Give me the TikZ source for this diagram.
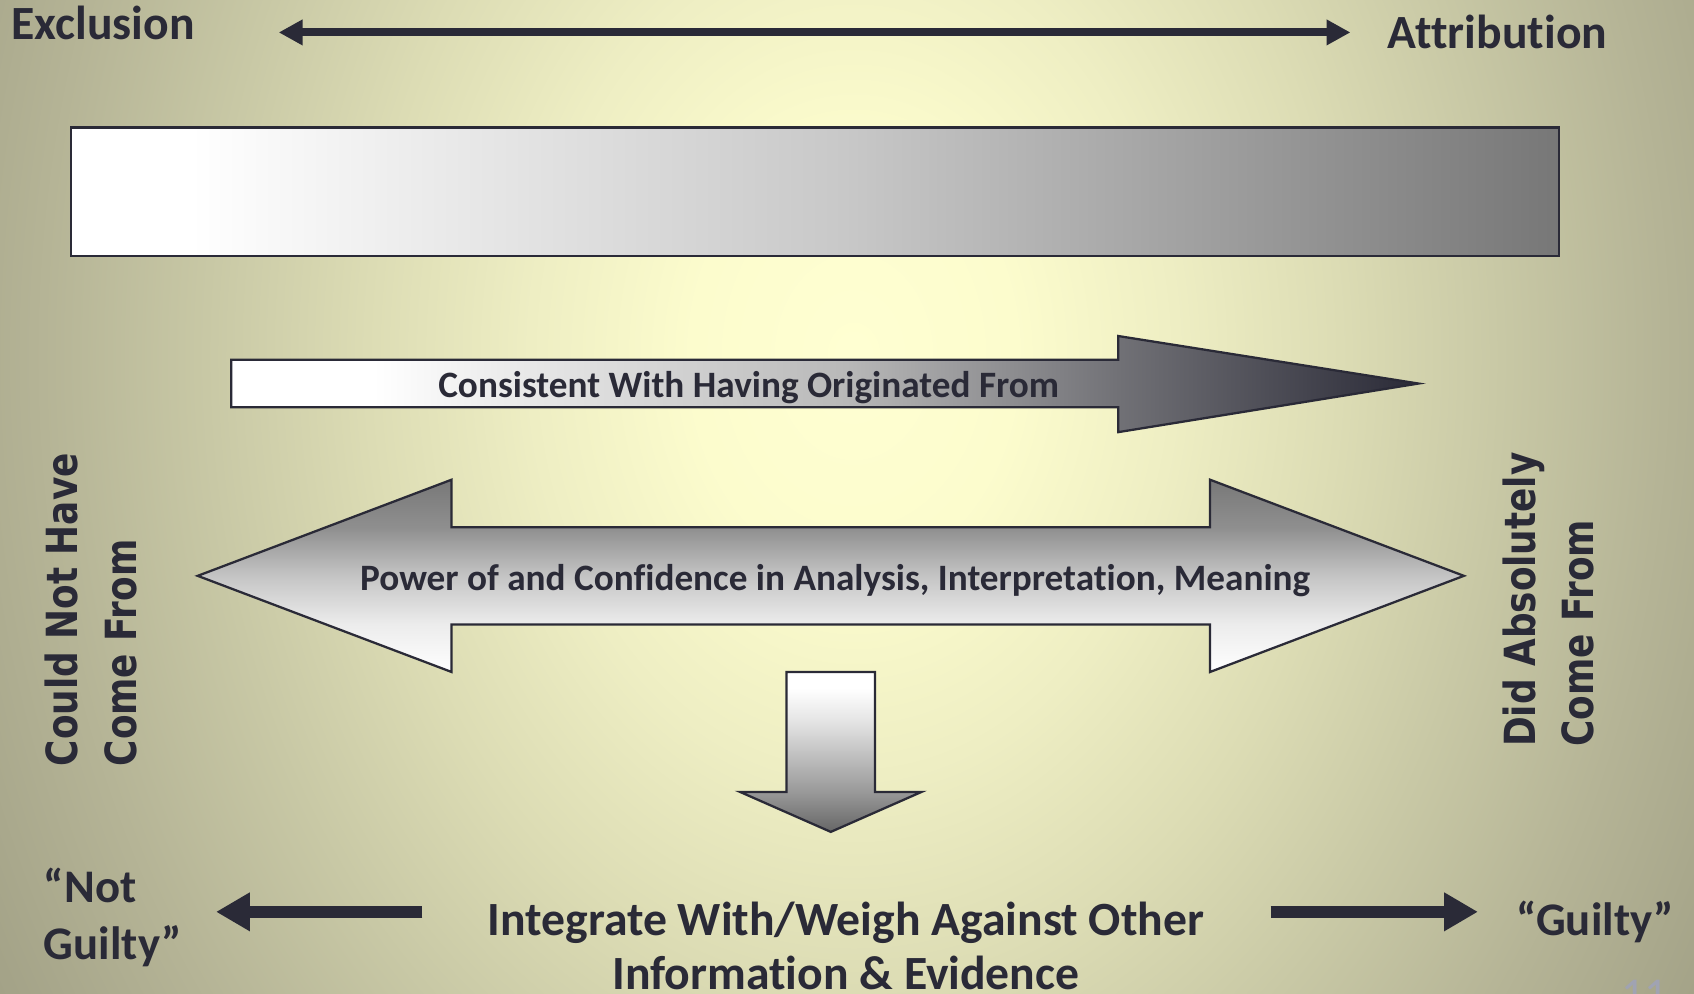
\documentclass[tikz,border=0pt]{standalone}
\usepackage{fontspec}
\setmainfont{Carlito}[Ligatures={TeX,NoCommon}]
\newfontfamily\vfont[FakeStretch=0.835]{DejaVu Sans}
\usetikzlibrary{arrows.meta}
\definecolor{ink}{RGB}{42,42,55}
\definecolor{pagenum}{RGB}{160,163,178}
\pgfdeclareradialshading{bgglow}{\pgfpoint{0bp}{0bp}}{%
 rgb(0bp)=(1,1,0.824);
 rgb(3.75bp)=(0.988,0.988,0.804);
 rgb(7.5bp)=(0.933,0.933,0.765);
 rgb(11.25bp)=(0.863,0.863,0.706);
 rgb(15bp)=(0.784,0.784,0.647);
 rgb(18.75bp)=(0.71,0.706,0.588);
 rgb(22.5bp)=(0.643,0.639,0.533);
 rgb(27.5bp)=(0.588,0.584,0.486);
 rgb(50bp)=(0.588,0.584,0.486)}
\pgfdeclarehorizontalshading{scalegrad}{100bp}{%
 rgb(0bp)=(1,1,1); rgb(29bp)=(1,1,1); rgb(51bp)=(0.784,0.784,0.784);
 rgb(75bp)=(0.467,0.467,0.467); rgb(100bp)=(0.467,0.467,0.467)}
\pgfdeclarehorizontalshading{consgrad}{100bp}{%
 rgb(0bp)=(1,1,1); rgb(31bp)=(1,1,1); rgb(51bp)=(0.72,0.72,0.72);
 rgb(62.5bp)=(0.44,0.44,0.46); rgb(75bp)=(0.165,0.165,0.216); rgb(100bp)=(0.165,0.165,0.216)}
\pgfdeclareverticalshading{powgrad}{100bp}{%
 rgb(0bp)=(1,1,1); rgb(25bp)=(1,1,1); rgb(37.5bp)=(0.925,0.925,0.925);
 rgb(50bp)=(0.77,0.77,0.77); rgb(62.5bp)=(0.56,0.56,0.56);
 rgb(75bp)=(0.47,0.47,0.47); rgb(100bp)=(0.47,0.47,0.47)}
\pgfdeclareverticalshading{downgrad}{100bp}{%
 rgb(0bp)=(0.4,0.4,0.4); rgb(25bp)=(0.4,0.4,0.4); rgb(37.5bp)=(0.6,0.6,0.6);
 rgb(60bp)=(0.9,0.9,0.9); rgb(70bp)=(1,1,1); rgb(100bp)=(1,1,1)}
\begin{document}
\begin{tikzpicture}[x=0.01cm, y=-0.01cm, line join=miter,
  bigtxt/.style={text=ink, inner sep=0pt, font=\fontsize{12.3}{15}\selectfont\bfseries},
  toptxt/.style={text=ink, inner sep=0pt, font=\fontsize{12.55}{15}\selectfont\bfseries},
  midtxt/.style={text=ink, inner sep=0pt, font=\fontsize{9.8}{12}\selectfont\bfseries},
  sidetxt/.style={text=ink, inner sep=0pt, rotate=90, align=left, font=\vfont\fontsize{11.3}{15.4}\selectfont\bfseries},
  outline/.style={draw=ink, line width=0.6pt},
  spanarrow/.style={draw=ink, line width=2.1pt, {Triangle[length=6.3pt,width=6.4pt]}-{Triangle[length=6.3pt,width=6.4pt]}},
  verdict/.style={draw=ink, line width=3.1pt, -{Triangle[length=8.9pt,width=9.6pt]}}]
\useasboundingbox (0,0) rectangle (1568,920);
\begin{scope}
  \clip (0,0) rectangle (1568,920);
  \shade[shading=bgglow] (-210,-970) rectangle (1790,1630);
\end{scope}
% top scale
\node[toptxt, anchor=base west] (excl) at (10,37) {Exclusion};
\node[toptxt, anchor=base west] (attr) at (1284,45) {Attribution};
\coordinate (barL) at (258,30);
\coordinate (barR) at (1250,30);
\draw[spanarrow] (barL) -- (barR);
\shadedraw[outline, shading=scalegrad] (66,118) rectangle (1443,237);
% consistent arrow
\shadedraw[outline, shading=consgrad] (214,333) -- (1035,333) -- (1035,311) -- (1313,355) -- (1035,400) -- (1035,377) -- (214,377) -- cycle;
\node[midtxt, anchor=base] (cons) at (693,368) {Consistent With Having Originated From};
% double arrow
\shadedraw[outline, shading=powgrad] (183,533) -- (418,444) -- (418,488) -- (1120,488) -- (1120,444) -- (1355,533) -- (1120,622) -- (1120,578) -- (418,578) -- (418,622) -- cycle;
\node[midtxt, anchor=base] (power) at (773,547) {Power of and Confidence in Analysis, Interpretation, Meaning};
% down arrow
\shadedraw[outline, shading=downgrad] (728,622) -- (810,622) -- (810,733) -- (853,733) -- (769,770) -- (685,733) -- (728,733) -- cycle;
% side labels
\node[sidetxt, anchor=north west] (notfrom) at (41,710) {Could Not Have\\Come From};
\node[sidetxt, anchor=north west] (didfrom) at (1390,692) {Did Absolutely\\Come From};
% bottom row
\node[bigtxt, align=left, anchor=base west] (notguilty) at (40,888) {“Not\\Guilty”};
\node[bigtxt, font=\fontsize{12.55}{14.3}\selectfont\bfseries, align=center, anchor=base] (integ) at (783,916) {Integrate With/Weigh Against Other\\Information \& Evidence};
\node[bigtxt, anchor=base west] (guilty) at (1403,866) {“Guilty”};
\coordinate (ngL) at (200,844);
\coordinate (ngR) at (391,844);
\draw[verdict] (ngR) -- (ngL);
\coordinate (gL) at (1176,844);
\coordinate (gR) at (1368,844);
\draw[verdict] (gL) -- (gR);
\node[text=pagenum, inner sep=0pt, font=\fontsize{12}{14}\selectfont, anchor=base west] (pg) at (1500,934) {11};
\end{tikzpicture}
\end{document}
